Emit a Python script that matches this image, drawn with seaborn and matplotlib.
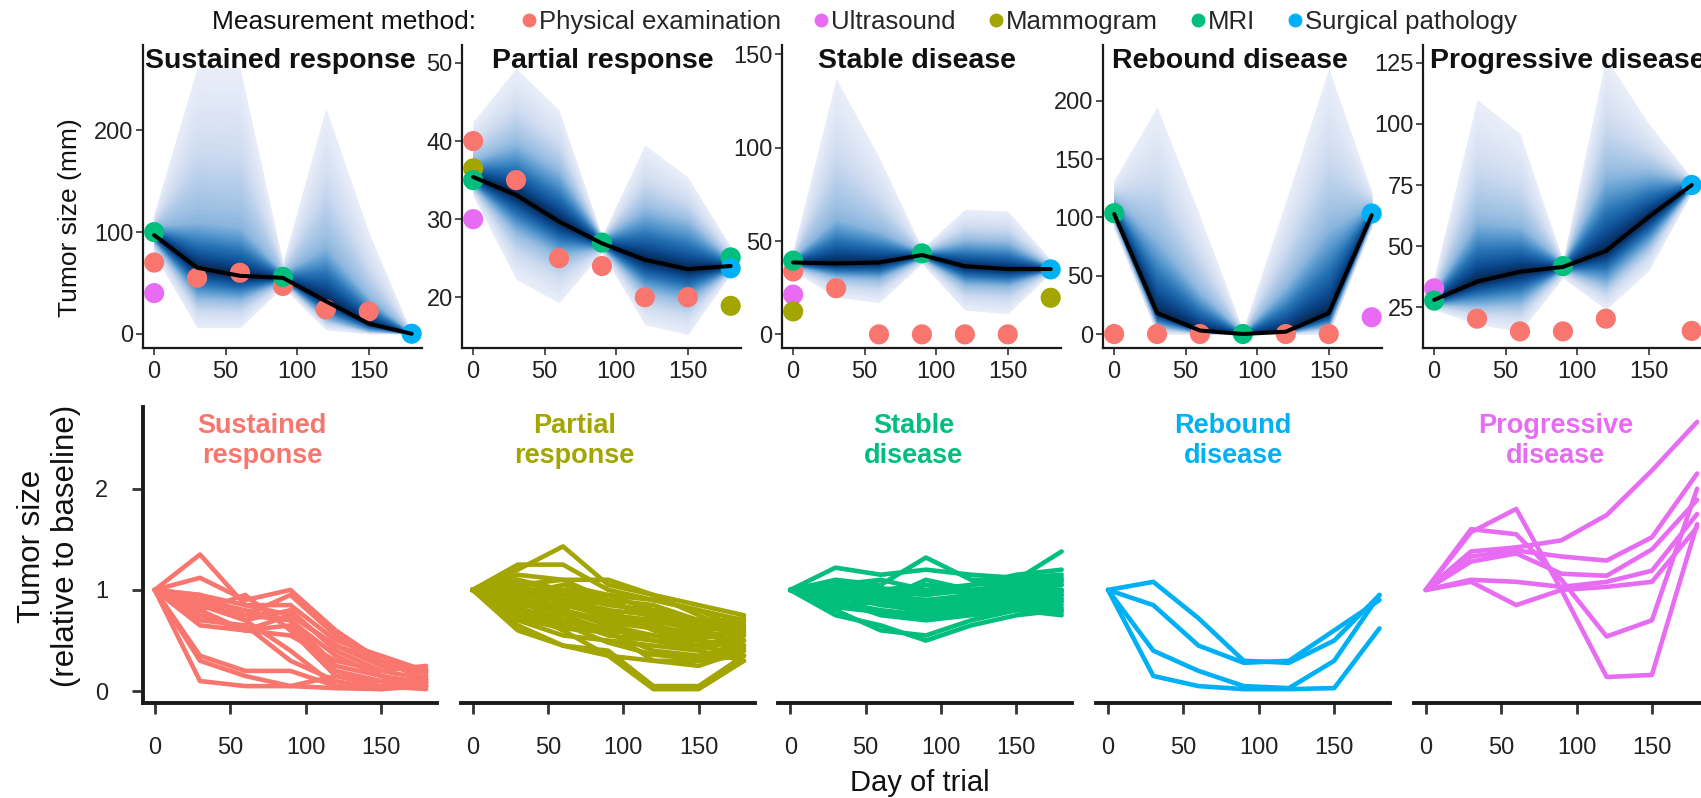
import numpy as np
import pandas as pd
import matplotlib
matplotlib.use("Agg")
import matplotlib.pyplot as plt
from matplotlib.lines import Line2D
from matplotlib.colors import LinearSegmentedColormap
import seaborn as sns

sns.set_theme(style="ticks")
plt.rcParams["font.family"] = ["Liberation Sans", "DejaVu Sans"]

DAYS = [0, 30, 60, 90, 120, 150, 180]
CLASSES = ["Sustained response", "Partial response", "Stable disease",
           "Rebound disease", "Progressive disease"]
CLASS_LABELS = ["Sustained\nresponse", "Partial\nresponse", "Stable\ndisease",
                "Rebound\ndisease", "Progressive\ndisease"]
CLASS_COLORS = ["#F8766D", "#A3A500", "#00BF7D", "#00B0F6", "#E76BF3"]
METHODS = ["Physical examination", "Ultrasound", "Mammogram", "MRI", "Surgical pathology"]
METHOD_COLORS = ["#F8766D", "#E76BF3", "#A3A500", "#00BF7D", "#00B0F6"]

# ---- example patients: observed sizes (method, day, mm) ----
SR_OBS = [("Physical examination", 0, 70), ("Physical examination", 30, 55),
          ("Physical examination", 60, 60), ("Physical examination", 90, 47),
          ("Physical examination", 120, 24), ("Physical examination", 150, 22),
          ("Ultrasound", 0, 40), ("MRI", 0, 100), ("MRI", 90, 56),
          ("Surgical pathology", 180, 0)]
PR_OBS = [("Physical examination", 0, 40), ("Physical examination", 30, 35),
          ("Physical examination", 60, 25), ("Physical examination", 90, 24),
          ("Physical examination", 120, 20), ("Physical examination", 150, 20),
          ("Ultrasound", 0, 30), ("Mammogram", 0, 36.5), ("Mammogram", 180, 18.9),
          ("MRI", 0, 35), ("MRI", 90, 27), ("Surgical pathology", 180, 23.7),
          ("MRI", 180, 25.1)]
SD_OBS = [("Physical examination", 0, 33.7), ("Physical examination", 30, 24.7),
          ("Physical examination", 60, 0), ("Physical examination", 90, 0),
          ("Physical examination", 120, 0), ("Physical examination", 150, 0),
          ("Ultrasound", 0, 21.3), ("Mammogram", 0, 12.3), ("Mammogram", 180, 19.6),
          ("MRI", 0, 39.5), ("MRI", 90, 43.4), ("Surgical pathology", 180, 34.8)]
RD_OBS = [("Physical examination", 0, 0), ("Physical examination", 30, 0),
          ("Physical examination", 60, 0), ("Physical examination", 120, 0),
          ("Physical examination", 150, 0), ("Ultrasound", 180, 14.4),
          ("MRI", 0, 103.7), ("MRI", 90, 0), ("Surgical pathology", 180, 103.4)]
PD_OBS = [("Physical examination", 30, 20.3), ("Physical examination", 60, 15.1),
          ("Physical examination", 90, 15.1), ("Physical examination", 120, 20.3),
          ("Physical examination", 180, 15.3), ("Ultrasound", 0, 32.7),
          ("MRI", 0, 27.7), ("MRI", 90, 41.8), ("Surgical pathology", 180, 75)]

# ---- posterior median and 50% / 95% intervals of the true size (mm) ----
SR_MED = [97, 65, 57, 55, 32, 10, 0]
SR_LO50 = [90, 36, 34, 52, 15, 3, 0]
SR_HI50 = [105, 110, 105, 60, 85, 35, 0]
SR_LO95 = [78, 6, 6, 46, 4, 0, 0]
SR_HI95 = [118, 262, 262, 70, 222, 100, 0]

PR_MED = [35.4, 33.1, 29.7, 26.9, 24.8, 23.6, 24.0]
PR_LO50 = [34.2, 28.5, 25.5, 26.3, 21.0, 19.8, 23.5]
PR_HI50 = [37.5, 39.5, 36.0, 27.6, 31.0, 29.5, 24.8]
PR_LO95 = [33.0, 22.3, 19.3, 25.7, 16.5, 15.2, 23.0]
PR_HI95 = [42.5, 49.3, 44.0, 27.8, 39.5, 35.4, 26.5]

SD_MED = [38.5, 38.0, 38.5, 42.5, 36.5, 35.0, 35.0]
SD_LO50 = [36.8, 31.0, 30.0, 40.8, 27.0, 26.0, 34.2]
SD_HI50 = [41.0, 62.0, 55.0, 44.2, 50.0, 49.0, 36.5]
SD_LO95 = [34.0, 20.0, 17.0, 38.0, 13.0, 11.0, 33.0]
SD_HI95 = [45.0, 137.0, 95.0, 46.0, 67.0, 66.0, 40.0]

RD_MED = [103, 18, 3, 0, 2, 18, 102]
RD_LO50 = [97, 7, 1, 0, 1, 7, 97]
RD_HI50 = [115, 80, 35, 1, 40, 90, 110]
RD_LO95 = [90, 0, 0, 0, 0, 0, 92]
RD_HI95 = [132, 195, 101, 3, 114, 228, 122]

PD_MED = [28.0, 35.5, 39.5, 41.5, 48.0, 62.0, 75.0]
PD_LO50 = [26.3, 26.0, 27.0, 40.3, 35.0, 51.0, 73.8]
PD_HI50 = [31.0, 60.0, 58.0, 43.2, 78.0, 80.0, 76.3]
PD_LO95 = [24.0, 18.0, 15.0, 37.0, 24.0, 40.0, 72.0]
PD_HI95 = [37.0, 110.0, 96.0, 44.0, 127.0, 100.0, 78.0]

TOP_YLIMS = [(-14, 284), (13.5, 52.3), (-7.3, 155), (-12, 248), (8.3, 132.3)]
TOP_YTICKS = [[0, 100, 200], [20, 30, 40, 50], [0, 50, 100, 150],
              [0, 50, 100, 150, 200], [25, 50, 75, 100, 125]]

# ---- all patients: tumor size relative to baseline ----
SR_REL = [
    [1, 1.35, 0.85, 0.75, 0.45, 0.25, 0.18],
    [1, 1.12, 0.90, 1.00, 0.60, 0.30, 0.20],
    [1, 0.95, 0.75, 0.95, 0.55, 0.25, 0.22],
    [1, 0.85, 0.70, 0.80, 0.40, 0.20, 0.12],
    [1, 0.10, 0.05, 0.05, 0.15, 0.10, 0.05],
    [1, 0.35, 0.20, 0.20, 0.05, 0.05, 0.02],
    [1, 0.30, 0.15, 0.05, 0.03, 0.02, 0.05],
    [1, 0.75, 0.60, 0.65, 0.20, 0.10, 0.10],
    [1, 0.90, 0.80, 0.70, 0.35, 0.15, 0.08],
    [1, 0.80, 0.95, 0.60, 0.15, 0.05, 0.05],
    [1, 0.65, 0.60, 0.55, 0.30, 0.20, 0.25],
    [1, 0.90, 0.70, 0.40, 0.05, 0.05, 0.15],
    [1, 0.95, 0.85, 0.85, 0.50, 0.35, 0.20],
    [1, 0.70, 0.65, 0.30, 0.10, 0.02, 0.08],
    [1, 0.85, 0.75, 0.70, 0.25, 0.15, 0.05],
    [1, 0.80, 0.60, 0.75, 0.45, 0.30, 0.12],
]
PR_REL = [
    [1, 1.25, 1.25, 1.00, 0.90, 0.80, 0.70],
    [1, 1.20, 1.43, 1.05, 0.95, 0.85, 0.75],
    [1, 1.15, 1.10, 1.10, 0.95, 0.75, 0.55],
    [1, 1.10, 1.00, 0.95, 0.90, 0.80, 0.60],
    [1, 1.05, 1.10, 0.90, 0.85, 0.70, 0.65],
    [1, 1.00, 0.95, 0.85, 0.80, 0.70, 0.50],
    [1, 0.95, 0.90, 0.80, 0.75, 0.65, 0.60],
    [1, 0.90, 0.85, 0.75, 0.70, 0.60, 0.45],
    [1, 0.85, 0.80, 0.70, 0.65, 0.55, 0.50],
    [1, 0.80, 0.75, 0.60, 0.55, 0.50, 0.40],
    [1, 0.75, 0.70, 0.55, 0.50, 0.45, 0.35],
    [1, 0.70, 0.55, 0.50, 0.45, 0.40, 0.30],
    [1, 0.65, 0.45, 0.35, 0.30, 0.30, 0.35],
    [1, 0.60, 0.45, 0.40, 0.05, 0.05, 0.35],
    [1, 0.80, 0.60, 0.35, 0.02, 0.02, 0.30],
    [1, 0.90, 0.70, 0.60, 0.30, 0.25, 0.40],
    [1, 1.00, 0.80, 0.65, 0.55, 0.45, 0.55],
    [1, 1.05, 0.90, 0.80, 0.60, 0.50, 0.45],
    [1, 1.10, 0.95, 0.75, 0.70, 0.60, 0.65],
    [1, 0.95, 1.05, 0.95, 0.80, 0.70, 0.70],
    [1, 0.88, 0.78, 0.68, 0.62, 0.58, 0.55],
    [1, 0.82, 0.70, 0.62, 0.50, 0.42, 0.50],
    [1, 0.72, 0.62, 0.58, 0.40, 0.35, 0.45],
    [1, 0.98, 0.88, 0.72, 0.66, 0.52, 0.62],
    [1, 1.08, 1.00, 0.88, 0.74, 0.64, 0.58],
    [1, 0.92, 0.82, 0.90, 0.72, 0.62, 0.68],
    [1, 0.78, 0.66, 0.48, 0.36, 0.32, 0.42],
    [1, 1.02, 0.96, 0.86, 0.78, 0.68, 0.72],
]
SD_REL = [
    [1, 1.22, 1.15, 1.20, 1.15, 1.12, 1.15],
    [1, 1.10, 1.05, 1.32, 1.10, 1.10, 1.38],
    [1, 1.05, 1.10, 1.00, 1.05, 1.15, 1.20],
    [1, 1.00, 1.00, 1.05, 1.00, 1.05, 1.10],
    [1, 0.95, 0.98, 0.95, 1.00, 1.00, 1.05],
    [1, 0.90, 0.92, 0.90, 0.95, 0.98, 1.00],
    [1, 0.85, 0.88, 0.85, 0.90, 0.95, 0.95],
    [1, 0.80, 0.60, 0.55, 0.70, 0.80, 0.85],
    [1, 0.75, 0.65, 0.50, 0.65, 0.75, 0.80],
    [1, 0.90, 0.75, 0.70, 0.75, 0.80, 0.75],
    [1, 0.95, 0.85, 0.80, 0.85, 0.88, 0.90],
    [1, 1.00, 0.95, 0.90, 0.92, 0.95, 1.00],
    [1, 1.05, 1.00, 0.98, 0.98, 1.02, 1.08],
    [1, 0.88, 0.80, 0.75, 0.80, 0.85, 0.88],
    [1, 0.92, 0.90, 1.10, 1.00, 1.00, 1.05],
    [1, 1.02, 0.95, 0.85, 0.88, 0.92, 0.95],
    [1, 0.97, 0.90, 0.82, 0.85, 0.90, 0.92],
    [1, 0.83, 0.78, 0.72, 0.78, 0.82, 0.78],
    [1, 1.08, 1.02, 0.95, 1.05, 1.08, 1.12],
    [1, 0.93, 0.86, 0.78, 0.82, 0.86, 0.82],
    [1, 0.98, 0.93, 0.88, 0.90, 0.94, 0.98],
]
RD_REL = [
    [1, 1.08, 0.72, 0.30, 0.28, 0.50, 0.95],
    [1, 0.85, 0.45, 0.28, 0.30, 0.60, 0.90],
    [1, 0.40, 0.20, 0.05, 0.03, 0.30, 0.95],
    [1, 0.15, 0.05, 0.02, 0.02, 0.03, 0.62],
]
PD_REL = [
    [1, 1.57, 1.80, 1.00, 0.14, 0.16, 1.65],
    [1, 1.60, 1.55, 1.10, 0.54, 0.70, 2.00],
    [1, 1.38, 1.42, 1.49, 1.74, 2.18, 2.66],
    [1, 1.33, 1.39, 1.33, 1.29, 1.52, 2.15],
    [1, 1.28, 1.36, 1.16, 1.14, 1.40, 1.89],
    [1, 1.10, 1.08, 1.03, 1.08, 1.19, 1.75],
    [1, 1.08, 0.85, 1.00, 1.03, 1.08, 1.62],
]

# label positions (day) for the class names in the lower row
LABEL_DAY = [71, 67.5, 82, 83, 86]

W, H = 1701, 798
TOP_LEFTS = [142.7, 461.7, 781.7, 1102.7, 1422.7]
BOT_LEFTS = [142.7, 460.5, 778.2, 1096.0, 1413.7]
TITLE_OFFSETS = [2.3, 30.3, 36.3, 9.0, 7.3]
XLIM = (-8, 187)

fig = plt.figure(figsize=(W / 100, H / 100), dpi=100)
fig.patch.set_facecolor("white")

method_palette = dict(zip(METHODS, METHOD_COLORS))
fan_cmap = LinearSegmentedColormap.from_list(
    "fan", ["#e8edf8", "#cddbf0", "#9dc0e3", "#5a9bd0", "#2470b3", "#0b4a8f", "#071f45"])


def draw_fan(ax, med, lo50, hi50, lo95, hi95, n=70):
    med, lo50, hi50, lo95, hi95 = (np.asarray(a, float) for a in (med, lo50, hi50, lo95, hi95))
    for i in range(n, 0, -1):
        f = i / n
        if f > 0.5:
            t = (f - 0.5) / 0.5
            lo = lo50 + (lo95 - lo50) * t
            hi = hi50 + (hi95 - hi50) * t
        else:
            t = f / 0.5
            lo = med + (lo50 - med) * t
            hi = med + (hi50 - med) * t
        shade = (1 - f) ** 1.35
        ax.fill_between(DAYS, lo, hi, color=fan_cmap(shade), lw=0, zorder=1)


def style_axis(ax, lw, tick_len, tick_w, pad_x, pad_y, size):
    for side in ("top", "right"):
        ax.spines[side].set_visible(False)
    for side in ("left", "bottom"):
        ax.spines[side].set_linewidth(lw)
        ax.spines[side].set_color("#1a1a1a")
    ax.tick_params(axis="x", length=tick_len, width=tick_w, color="#333333",
                   labelsize=size, labelcolor="#222222", pad=pad_x)
    ax.tick_params(axis="y", length=tick_len, width=tick_w, color="#333333",
                   labelsize=size, labelcolor="#222222", pad=pad_y)
    ax.set_facecolor("white")
    ax.set_xlabel("")
    ax.set_ylabel("")


top_obs = [SR_OBS, PR_OBS, SD_OBS, RD_OBS, PD_OBS]
top_bands = [
    (SR_MED, SR_LO50, SR_HI50, SR_LO95, SR_HI95),
    (PR_MED, PR_LO50, PR_HI50, PR_LO95, PR_HI95),
    (SD_MED, SD_LO50, SD_HI50, SD_LO95, SD_HI95),
    (RD_MED, RD_LO50, RD_HI50, RD_LO95, RD_HI95),
    (PD_MED, PD_LO50, PD_HI50, PD_LO95, PD_HI95),
]

# ---- top row: one example patient per class ----
for k in range(5):
    ax = fig.add_axes([TOP_LEFTS[k] / W, 1 - 348 / H, 279 / W, 303 / H])
    med, lo50, hi50, lo95, hi95 = top_bands[k]
    draw_fan(ax, med, lo50, hi50, lo95, hi95)
    obs = pd.DataFrame(top_obs[k], columns=["method", "day", "size"])
    obs["order"] = obs["method"].map({m: i for i, m in enumerate(METHODS)})
    obs = obs.sort_values("order", kind="stable")
    sns.scatterplot(data=obs, x="day", y="size", hue="method", palette=method_palette,
                    s=210, linewidth=0, legend=False, ax=ax, zorder=3, clip_on=False)
    sns.lineplot(x=DAYS, y=med, color="black", lw=2.9, ax=ax, zorder=4)
    ax.set_xlim(*XLIM)
    ax.set_ylim(*TOP_YLIMS[k])
    ax.set_xticks([0, 50, 100, 150])
    ax.set_yticks(TOP_YTICKS[k])
    style_axis(ax, lw=1.6, tick_len=5, tick_w=1.2, pad_x=4, pad_y=1.5, size=17)
    ax.text(TITLE_OFFSETS[k] / 279, (348 - 68) / 303, CLASSES[k], transform=ax.transAxes,
            ha="left", va="baseline", fontsize=20.5, fontweight="bold", color="#111111",
            zorder=6, clip_on=False)

# ---- bottom row: all patients, relative to baseline ----
rel_sets = [SR_REL, PR_REL, SD_REL, RD_REL, PD_REL]
for k in range(5):
    ax = fig.add_axes([BOT_LEFTS[k] / W, 1 - 703.3 / H, 294 / W, (703.3 - 406.7) / H])
    rows = []
    for pid, series in enumerate(rel_sets[k]):
        for d, v in zip(DAYS, series):
            rows.append((pid, d, v))
    df = pd.DataFrame(rows, columns=["patient", "day", "rel"])
    sns.lineplot(data=df, x="day", y="rel", units="patient", estimator=None,
                 color=CLASS_COLORS[k], lw=3.3, ax=ax, zorder=2)
    ax.set_xlim(*XLIM)
    ax.set_ylim(-0.12, 2.81)
    ax.set_xticks([0, 50, 100, 150])
    ax.set_yticks([0, 1, 2])
    style_axis(ax, lw=2.8, tick_len=8, tick_w=2.0, pad_x=16, pad_y=17, size=17)
    if k > 0:
        ax.spines["left"].set_visible(False)
        ax.tick_params(axis="y", left=False, labelleft=False)
    ax.text(LABEL_DAY[k], 2.468, CLASS_LABELS[k], ha="center", va="center",
            fontsize=19.5, fontweight="bold", color=CLASS_COLORS[k], linespacing=1.2)

# ---- shared labels and legend ----
fig.text(70 / W, 1 - 218 / H, "Tumor size (mm)", rotation=90, ha="center", va="center",
         fontsize=19, color="#111111")
fig.text(49 / W, 1 - 546 / H, "Tumor size\n(relative to baseline)", rotation=90,
         ha="center", va="center", fontsize=22.5, color="#111111", linespacing=1.2)
fig.text(920 / W, 1 - 783 / H, "Day of trial", ha="center", va="center",
         fontsize=21, color="#111111")

fig.text(212 / W, 1 - 22 / H, "Measurement method:", ha="left", va="center",
         fontsize=19, color="#111111")
handles = [Line2D([], [], marker="o", ls="", color=c, markersize=9) for c in METHOD_COLORS]
fig.legend(handles, METHODS, loc="center left", bbox_to_anchor=(520 / W, 1 - 22 / H),
           ncol=5, frameon=False, fontsize=18.5, handletextpad=0.05, columnspacing=1.2,
           handlelength=0.7, borderpad=0, borderaxespad=0)

fig.savefig("out.png", dpi=100, facecolor="white")
